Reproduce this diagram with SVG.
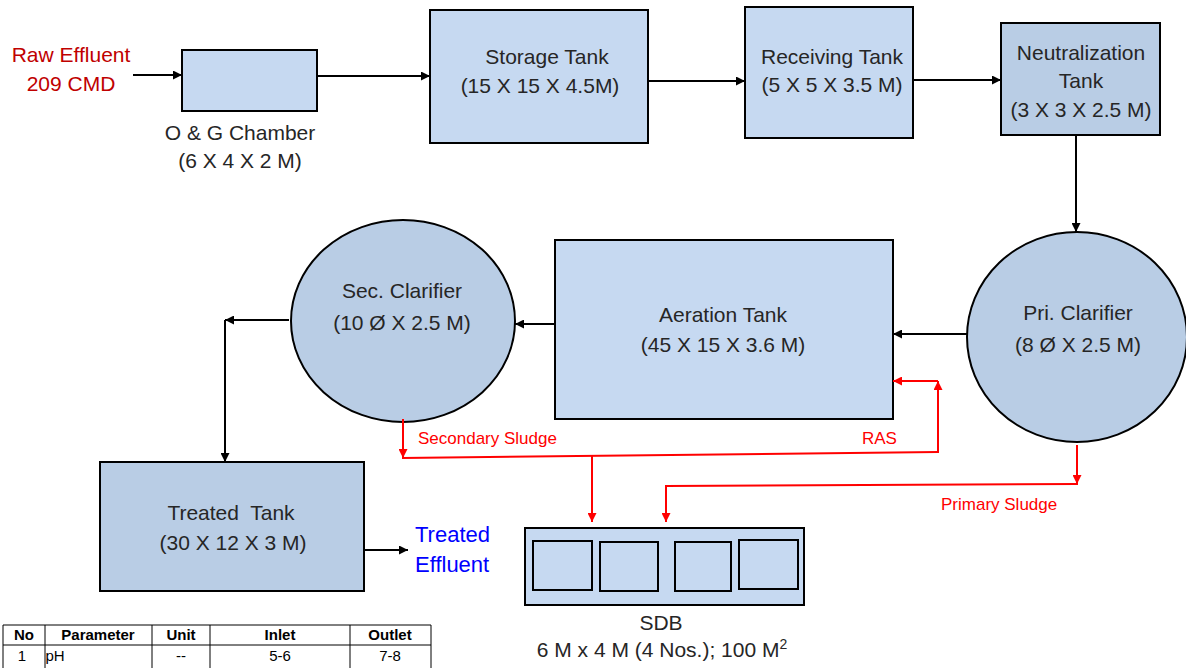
<svg xmlns="http://www.w3.org/2000/svg" width="1186" height="668" viewBox="0 0 1186 668">
<defs>
<style>
.lt{fill:#c6d9f1;stroke:#000;stroke-width:2}
.dk{fill:#b9cde5;stroke:#000;stroke-width:2}
.lbl{font-family:"Liberation Sans",Arial,sans-serif;font-size:21px;fill:#262626;text-anchor:middle}
.red{font-family:"Liberation Sans",Arial,sans-serif;font-size:17px;fill:#ff0000}
.blk{fill:none;stroke:#000;stroke-width:2}
.rl{fill:none;stroke:#ff0000;stroke-width:2}
.tb{font-family:"Liberation Sans",Arial,sans-serif;font-size:15px;fill:#000;text-anchor:middle}
.tl{stroke:#000;stroke-width:1}
</style>
<marker id="ab" viewBox="0 0 10 10" refX="10" refY="5" markerWidth="9" markerHeight="9" markerUnits="userSpaceOnUse" orient="auto"><path d="M0,0 L10,5 L0,10 z" fill="#000"/></marker>
<marker id="ar" viewBox="0 0 10 10" refX="10" refY="5" markerWidth="9" markerHeight="9" markerUnits="userSpaceOnUse" orient="auto"><path d="M0,0 L10,5 L0,10 z" fill="#ff0000"/></marker>
</defs>
<rect width="1186" height="668" fill="#fff"/>

<g id="raw-effluent">
<text x="71" y="62" font-family="Liberation Sans,Arial,sans-serif" font-size="21" fill="#c00000" text-anchor="middle">Raw Effluent</text>
<text x="71" y="91" font-family="Liberation Sans,Arial,sans-serif" font-size="21" fill="#c00000" text-anchor="middle">209 CMD</text>
</g>
<g id="og-chamber">
<rect class="lt" x="182" y="50" width="135" height="61"/>
<text class="lbl" x="240" y="140">O &amp; G Chamber</text>
<text class="lbl" x="240" y="168">(6 X 4 X 2 M)</text>
</g>
<g id="storage-tank">
<rect class="lt" x="430" y="10" width="218" height="133"/>
<text class="lbl" x="547" y="64">Storage Tank</text>
<text class="lbl" x="540" y="93">(15 X 15 X 4.5M)</text>
</g>
<g id="receiving-tank">
<rect class="lt" x="745" y="7" width="168" height="131"/>
<text class="lbl" x="832" y="64">Receiving Tank</text>
<text class="lbl" x="832" y="92">(5 X 5 X 3.5 M)</text>
</g>
<g id="neutralization-tank">
<rect class="dk" x="1001" y="23" width="159" height="112"/>
<text class="lbl" x="1081" y="60">Neutralization</text>
<text class="lbl" x="1081" y="88">Tank</text>
<text class="lbl" x="1081" y="117">(3 X 3 X 2.5 M)</text>
</g>
<g id="pri-clarifier">
<ellipse class="dk" cx="1077" cy="337" rx="110" ry="105"/>
<text class="lbl" x="1078" y="320">Pri. Clarifier</text>
<text class="lbl" x="1078" y="352">(8 Ø X 2.5 M)</text>
</g>
<g id="aeration-tank">
<rect class="lt" x="555" y="240" width="338" height="179"/>
<text class="lbl" x="723" y="322">Aeration Tank</text>
<text class="lbl" x="723" y="352">(45 X 15 X 3.6 M)</text>
</g>
<g id="sec-clarifier">
<ellipse class="dk" cx="403" cy="321" rx="112" ry="101"/>
<text class="lbl" x="402" y="298">Sec. Clarifier</text>
<text class="lbl" x="402" y="330">(10 Ø X 2.5 M)</text>
</g>
<g id="treated-tank">
<rect class="dk" x="100" y="462" width="264" height="129"/>
<text class="lbl" x="231" y="520" xml:space="preserve">Treated  Tank</text>
<text class="lbl" x="233" y="550">(30 X 12 X 3 M)</text>
</g>
<g id="treated-effluent">
<text x="415" y="542" font-family="Liberation Sans,Arial,sans-serif" font-size="22" fill="#0000ff">Treated</text>
<text x="415" y="572" font-family="Liberation Sans,Arial,sans-serif" font-size="22" fill="#0000ff">Effluent</text>
</g>
<g id="sdb">
<rect class="lt" x="525" y="528" width="279" height="77"/>
<rect class="lt" x="533" y="541" width="59" height="49"/>
<rect class="lt" x="600" y="542" width="58" height="49"/>
<rect class="lt" x="675" y="542" width="56" height="49"/>
<rect class="lt" x="739" y="540" width="59" height="49"/>
<text class="lbl" x="661" y="630">SDB</text>
<text class="lbl" x="662" y="657">6 M x 4 M (4 Nos.); 100 M<tspan font-size="14" dy="-8">2</tspan></text>
</g>

<g id="connectors">
<path class="blk" d="M133,75 H182" marker-end="url(#ab)"/>
<path class="blk" d="M317,76 H430" marker-end="url(#ab)"/>
<path class="blk" d="M648,81 H745" marker-end="url(#ab)"/>
<path class="blk" d="M913,80 H1001" marker-end="url(#ab)"/>
<path class="blk" d="M1076,135 V232" marker-end="url(#ab)"/>
<path class="blk" d="M967,334 H893" marker-end="url(#ab)"/>
<path class="blk" d="M555,324 H515" marker-end="url(#ab)"/>
<path class="blk" d="M289,320 H225" marker-end="url(#ab)"/>
<path class="blk" d="M225,320 V462" marker-end="url(#ab)"/>
<path class="blk" d="M364,550 H408" marker-end="url(#ab)"/>
<path class="rl" d="M403,419 V458" marker-end="url(#ar)"/>
<path class="rl" d="M402,458 L938,452"/>
<path class="rl" d="M938,453 V381" marker-end="url(#ar)"/>
<path class="rl" d="M938,381 H893" marker-end="url(#ar)"/>
<path class="rl" d="M592,455 V522" marker-end="url(#ar)"/>
<path class="rl" d="M1077,445 V484" marker-end="url(#ar)"/>
<path class="rl" d="M1078,484 L666,486"/>
<path class="rl" d="M666,485 V522" marker-end="url(#ar)"/>
</g>
<g id="connector-labels">
<text class="red" x="418" y="444">Secondary Sludge</text>
<text class="red" x="862" y="444">RAS</text>
<text class="red" x="941" y="510">Primary Sludge</text>
</g>

<g id="table">
<path class="tl" d="M3,625 H431 M3,645 H431 M3,625 V668 M45,625 V668 M152,625 V668 M210,625 V668 M350,625 V668 M431,625 V668"/>
<text class="tb" x="24" y="640" font-weight="bold">No</text>
<text class="tb" x="98" y="640" font-weight="bold">Parameter</text>
<text class="tb" x="181" y="640" font-weight="bold">Unit</text>
<text class="tb" x="280" y="640" font-weight="bold">Inlet</text>
<text class="tb" x="390" y="640" font-weight="bold">Outlet</text>
<text class="tb" x="22" y="661">1</text>
<text class="tb" x="55" y="661" text-anchor="start">pH</text>
<text class="tb" x="181" y="661">--</text>
<text class="tb" x="280" y="661">5-6</text>
<text class="tb" x="390" y="661">7-8</text>
</g>
</svg>
